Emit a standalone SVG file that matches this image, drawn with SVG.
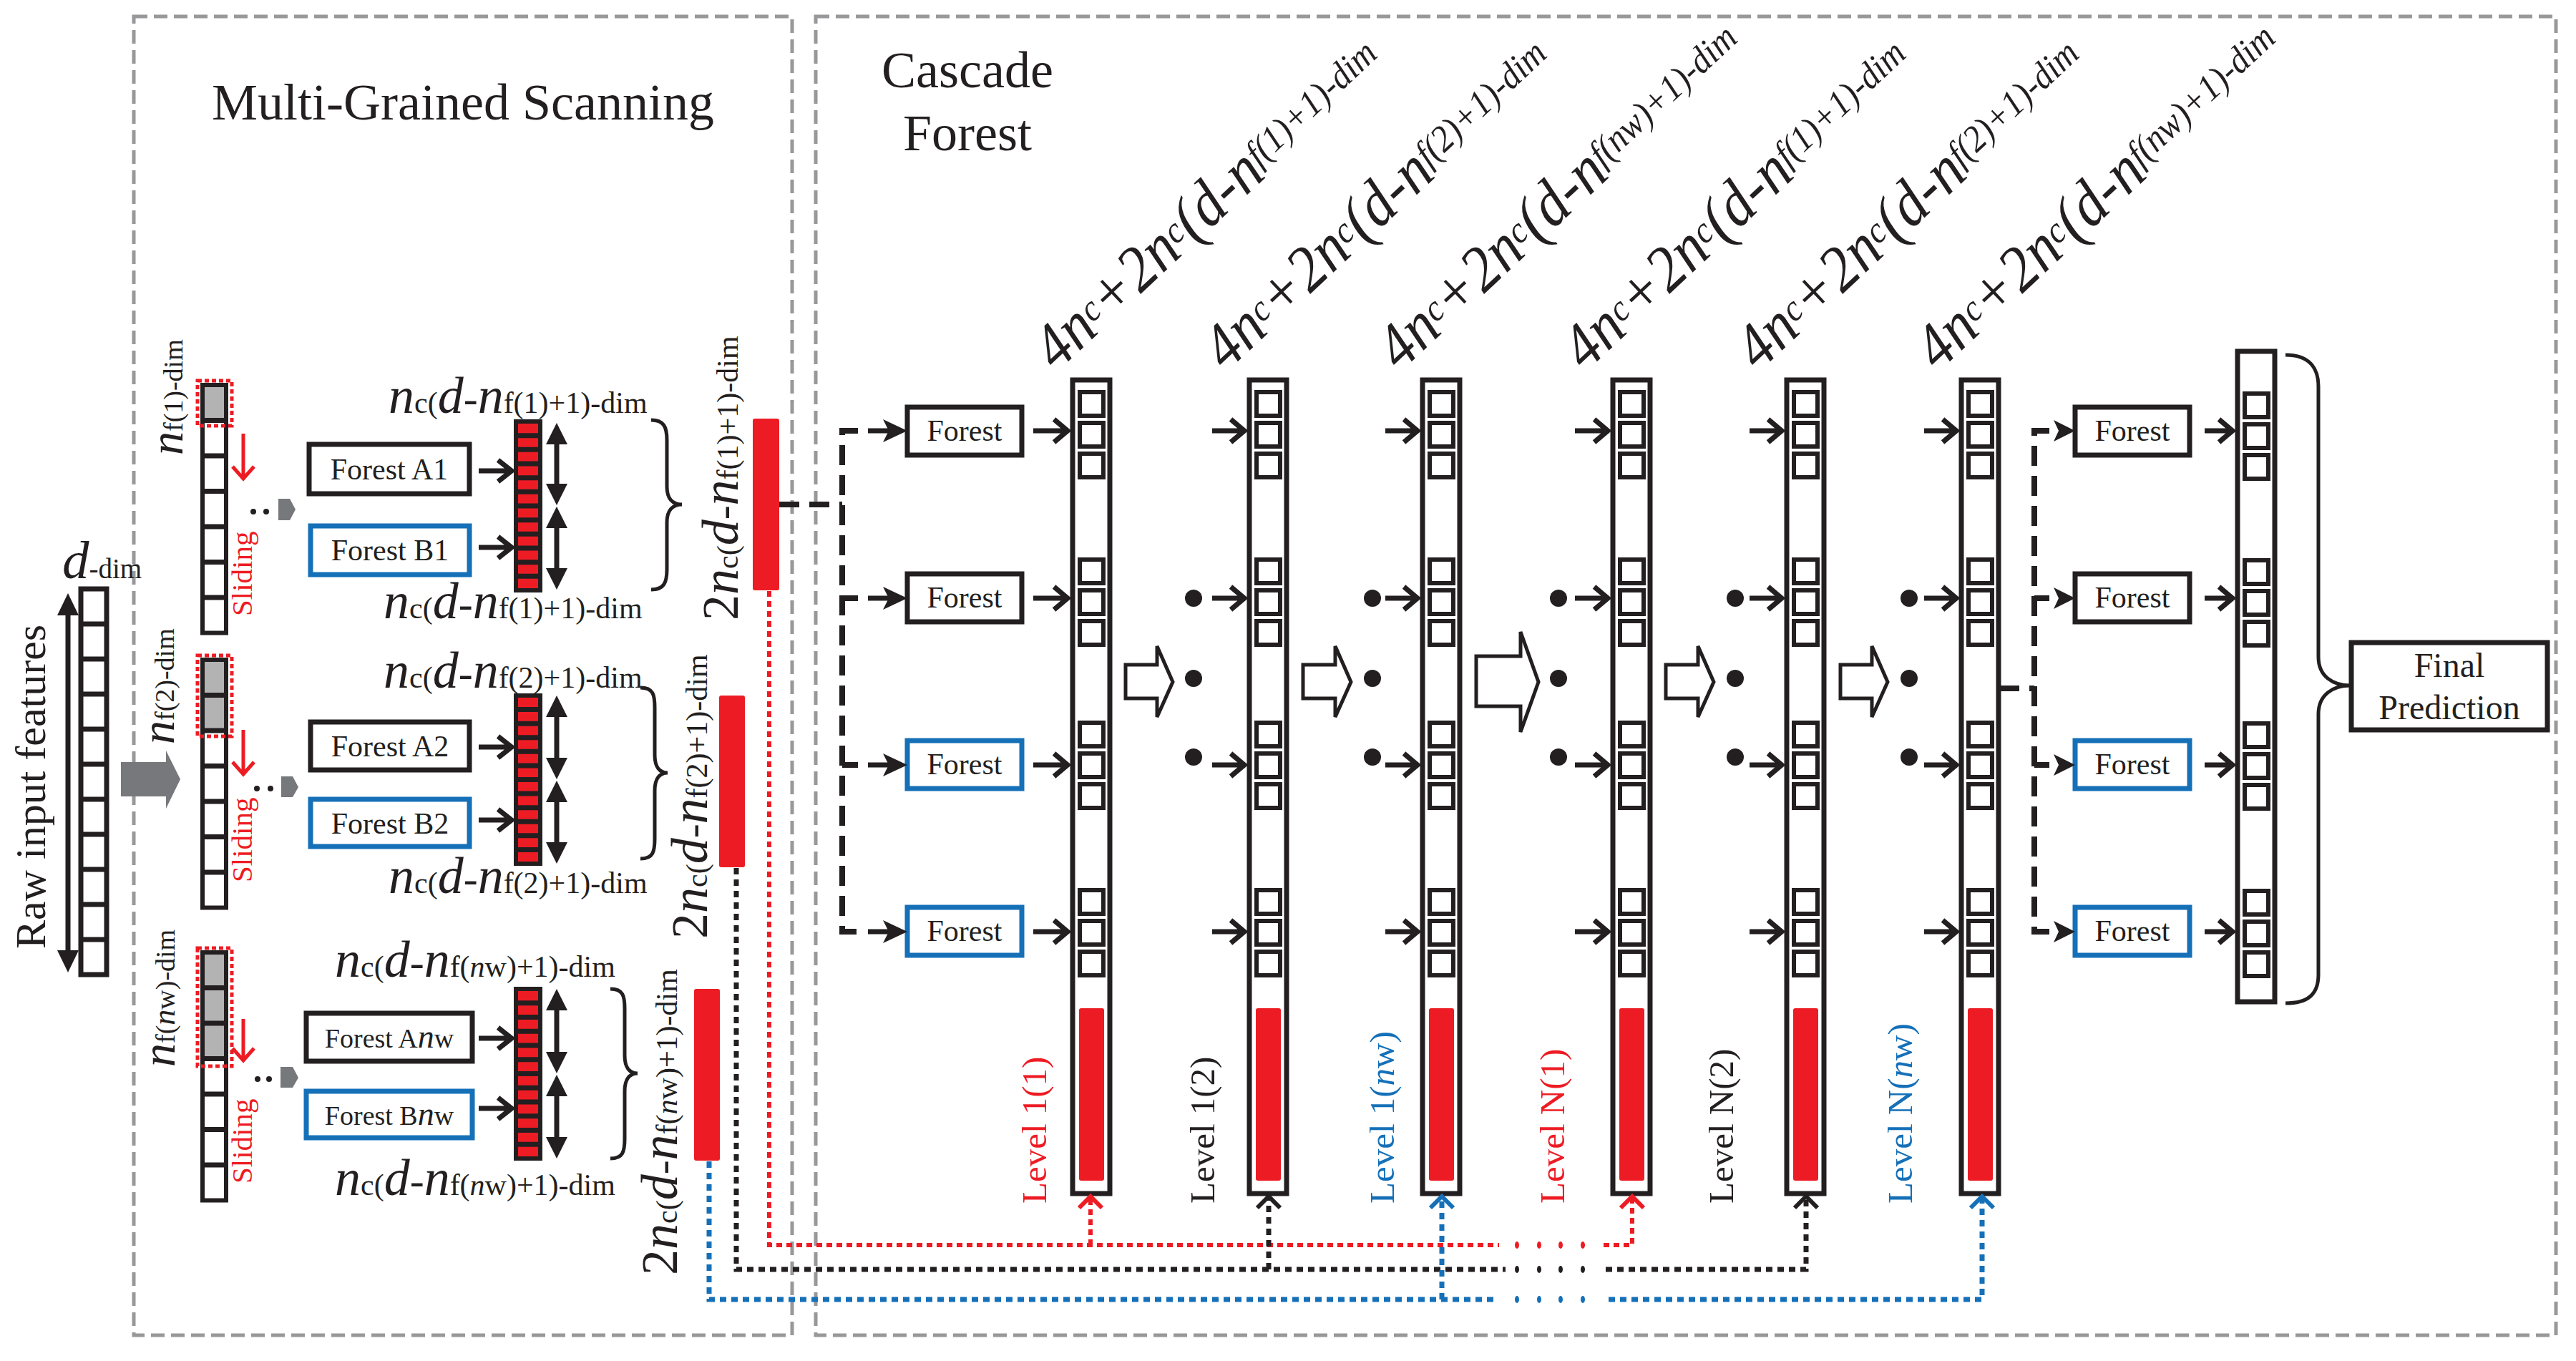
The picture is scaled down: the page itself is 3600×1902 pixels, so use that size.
<svg xmlns="http://www.w3.org/2000/svg" width="3600" height="1902" viewBox="0 0 3600 1902">
<defs>
<style>
.sf{font-family:"Liberation Serif","Times New Roman",serif;fill:#231f20}
.it{font-style:italic}
.gbox{fill:none;stroke:#98989a;stroke-width:5;stroke-dasharray:19 9}
.col{fill:#fff;stroke:#231f20;stroke-width:7}
.sq{fill:#fff;stroke:#231f20;stroke-width:6}
.rb{fill:#ed1c24}
.ln{fill:none;stroke:#231f20;stroke-width:7}
.thin{fill:none;stroke:#231f20;stroke-width:5}
.fbk{fill:#fff;stroke:#231f20;stroke-width:7}
.fbl{fill:#fff;stroke:#1570b8;stroke-width:7}
.bd{fill:none;stroke:#231f20;stroke-width:8;stroke-dasharray:28 14}
.rdot{fill:none;stroke:#ed1c24;stroke-width:6;stroke-dasharray:8 6}
.kdot{fill:none;stroke:#231f20;stroke-width:7;stroke-dasharray:9 7}
.bdot{fill:none;stroke:#1570b8;stroke-width:7;stroke-dasharray:9 7}
.rsel{fill:none;stroke:#ed1c24;stroke-width:5;stroke-dasharray:6 4}
.gray{fill:#77787b}
.cell{fill:#b3b3b3}
.hd{fill:#231f20}
.hollow{fill:#fff;stroke:#231f20;stroke-width:5;stroke-linejoin:miter}
</style>
<g id="sq3" class="sq"><rect width="33" height="33"/><rect y="43" width="33" height="33"/><rect y="86" width="33" height="33"/></g>
</defs>
<rect width="3600" height="1902" fill="#fff"/>

<g id="panels">
<rect class="gbox" x="187" y="23" width="920" height="1843"/>
<rect class="gbox" x="1140" y="23" width="2432" height="1843"/>
<text class="sf" x="647" y="167" font-size="72" text-anchor="middle">Multi-Grained Scanning</text>
<text class="sf" x="1352" y="122" font-size="72" text-anchor="middle">Cascade</text>
<text class="sf" x="1352" y="210" font-size="72" text-anchor="middle">Forest</text>
</g>

<g id="raw-input">
<rect x="113" y="823" width="36" height="539" class="col" stroke-width="6"/>
<path class="ln" stroke-width="6" d="M113,872H149M113,921H149M113,970H149M113,1019H149M113,1068H149M113,1117H149M113,1166H149M113,1215H149M113,1264H149M113,1313H149"/>
<path class="ln" d="M95,855V1333"/>
<polygon class="hd" points="95,829 80,860 110,860"/>
<polygon class="hd" points="95,1359 80,1328 110,1328"/>
<text class="sf" transform="translate(63,1326) rotate(-90)" font-size="60">Raw input features</text>
<text class="sf" x="87" y="808"><tspan class="it" font-size="75">d</tspan><tspan font-size="39">-dim</tspan></text>
<path class="gray" d="M169,1065H232V1049L252,1089L232,1130V1113H169Z"/>
</g>

<g id="window1">
<rect class="cell" x="283" y="538" width="33" height="49.5"/>
<rect x="283" y="538" width="33" height="346.5" fill="none" stroke="#231f20" stroke-width="6"/>
<path class="ln" stroke-width="6" d="M283,587.5H316M283,637H316M283,686.5H316M283,736H316M283,785.5H316M283,835H316"/>
<rect class="rsel" x="276" y="532" width="48" height="63"/>
<path fill="none" stroke="#ed1c24" stroke-width="5" d="M340,606V668M325,652L340,669L355,652"/>
<text class="sf" fill="#ed1c24" style="fill:#ed1c24" transform="translate(352,861) rotate(-90)" font-size="41">Sliding</text>
<text class="sf" transform="translate(255,636) rotate(-90)"><tspan class="it" font-size="66">n</tspan><tspan font-size="38">f(1)-dim</tspan></text>
<circle class="hd" cx="354" cy="715" r="4"/><circle class="hd" cx="372" cy="715" r="4"/>
<path class="gray" d="M389,697H405L413,712L405,727H389Z"/>
</g>

<g id="window2">
<rect class="cell" x="283" y="922" width="33" height="99"/>
<rect x="283" y="922" width="33" height="346.5" fill="none" stroke="#231f20" stroke-width="6"/>
<path class="ln" stroke-width="6" d="M283,971.5H316M283,1021H316M283,1070.5H316M283,1120H316M283,1169.5H316M283,1219H316"/>
<rect class="rsel" x="276" y="916" width="48" height="113"/>
<path fill="none" stroke="#ed1c24" stroke-width="5" d="M340,1020V1081M325,1065L340,1082L355,1065"/>
<text class="sf" style="fill:#ed1c24" transform="translate(352,1233) rotate(-90)" font-size="41">Sliding</text>
<text class="sf" transform="translate(243,1040) rotate(-90)"><tspan class="it" font-size="66">n</tspan><tspan font-size="38">f(2)-dim</tspan></text>
<circle class="hd" cx="359" cy="1102" r="4"/><circle class="hd" cx="378" cy="1102" r="4"/>
<path class="gray" d="M393,1085H409L417,1100L409,1114H393Z"/>
</g>

<g id="window3">
<rect class="cell" x="283" y="1331" width="33" height="148.5"/>
<rect x="283" y="1331" width="33" height="346.5" fill="none" stroke="#231f20" stroke-width="6"/>
<path class="ln" stroke-width="6" d="M283,1380.5H316M283,1430H316M283,1479.5H316M283,1529H316M283,1578.5H316M283,1628H316"/>
<rect class="rsel" x="276" y="1325" width="48" height="165"/>
<path fill="none" stroke="#ed1c24" stroke-width="5" d="M340,1424V1481M325,1465L340,1482L355,1465"/>
<text class="sf" style="fill:#ed1c24" transform="translate(352,1654) rotate(-90)" font-size="41">Sliding</text>
<text class="sf" transform="translate(244,1491) rotate(-90)"><tspan class="it" font-size="66">n</tspan><tspan font-size="38">f(</tspan><tspan class="it" font-size="44">n</tspan><tspan font-size="38">w)-dim</tspan></text>
<circle class="hd" cx="360" cy="1508" r="4"/><circle class="hd" cx="376" cy="1508" r="4"/>
<path class="gray" d="M392,1491H409L417,1506L409,1520H392Z"/>
</g>

<g id="forestA1"><rect class="fbk" x="432" y="621" width="224" height="69"/><text class="sf" x="544" y="670" font-size="42" text-anchor="middle">Forest A1</text></g>
<g id="forestB1"><rect class="fbl" x="434" y="735" width="222" height="68"/><text class="sf" x="545" y="783" font-size="42" text-anchor="middle">Forest B1</text></g>
<g id="forestA2"><rect class="fbk" x="434" y="1009" width="222" height="67"/><text class="sf" x="545" y="1057" font-size="42" text-anchor="middle">Forest A2</text></g>
<g id="forestB2"><rect class="fbl" x="434" y="1117" width="222" height="66"/><text class="sf" x="545" y="1165" font-size="42" text-anchor="middle">Forest B2</text></g>
<g id="forestAnw"><rect class="fbk" x="428" y="1416" width="232" height="67"/><text class="sf" x="544" y="1464" font-size="38" text-anchor="middle">Forest A<tspan class="it" font-size="46">n</tspan>w</text></g>
<g id="forestBnw"><rect class="fbl" x="428" y="1525" width="232" height="65"/><text class="sf" x="544" y="1572" font-size="38" text-anchor="middle">Forest B<tspan class="it" font-size="46">n</tspan>w</text></g>

<g id="vector1">
<rect class="rb" x="721" y="589" width="34" height="236" stroke="#231f20" stroke-width="6"/>
<path class="ln" stroke-width="4" d="M721,608.7H755M721,628.3H755M721,648H755M721,667.7H755M721,687.3H755M721,707H755M721,726.7H755M721,746.3H755M721,766H755M721,785.7H755M721,805.3H755"/>
<path class="ln" stroke-width="6" d="M778,615V682M778,732V800"/>
<polygon class="hd" points="778,591 763,621 793,621"/><polygon class="hd" points="778,706 763,676 793,676"/>
<polygon class="hd" points="778,708 763,738 793,738"/><polygon class="hd" points="778,824 763,794 793,794"/>
<text class="sf" x="543" y="577"><tspan class="it" font-size="72">n</tspan><tspan font-size="42">c(</tspan><tspan class="it" font-size="72">d</tspan><tspan font-size="60">-</tspan><tspan class="it" font-size="72">n</tspan><tspan font-size="42">f(1)+1)-dim</tspan></text>
<text class="sf" x="536" y="864"><tspan class="it" font-size="72">n</tspan><tspan font-size="42">c(</tspan><tspan class="it" font-size="72">d</tspan><tspan font-size="60">-</tspan><tspan class="it" font-size="72">n</tspan><tspan font-size="42">f(1)+1)-dim</tspan></text>
<path class="thin" d="M910,587C928,587 932,597 932,615V680C932,697 940,705 953,705C940,705 932,713 932,730V796C932,814 928,824 910,824"/>
<text class="sf" transform="translate(1031,867) rotate(-90)"><tspan font-size="72">2</tspan><tspan class="it" font-size="72">n</tspan><tspan font-size="42">c(</tspan><tspan class="it" font-size="72">d</tspan><tspan font-size="60">-</tspan><tspan class="it" font-size="72">n</tspan><tspan font-size="42">f(1)+1)-dim</tspan></text>
<rect class="rb" x="1052" y="585" width="37" height="240" rx="3"/>
</g>

<g id="vector2">
<rect class="rb" x="721" y="972" width="34" height="235" stroke="#231f20" stroke-width="6"/>
<path class="ln" stroke-width="4" d="M721,991.6H755M721,1011.2H755M721,1030.8H755M721,1050.3H755M721,1069.9H755M721,1089.5H755M721,1109.1H755M721,1128.7H755M721,1148.2H755M721,1167.8H755M721,1187.4H755"/>
<path class="ln" stroke-width="6" d="M778,996V1065M778,1115V1183"/>
<polygon class="hd" points="778,972 763,1002 793,1002"/><polygon class="hd" points="778,1089 763,1059 793,1059"/>
<polygon class="hd" points="778,1091 763,1121 793,1121"/><polygon class="hd" points="778,1207 763,1177 793,1177"/>
<text class="sf" x="536" y="961"><tspan class="it" font-size="72">n</tspan><tspan font-size="42">c(</tspan><tspan class="it" font-size="72">d</tspan><tspan font-size="60">-</tspan><tspan class="it" font-size="72">n</tspan><tspan font-size="42">f(2)+1)-dim</tspan></text>
<text class="sf" x="543" y="1248"><tspan class="it" font-size="72">n</tspan><tspan font-size="42">c(</tspan><tspan class="it" font-size="72">d</tspan><tspan font-size="60">-</tspan><tspan class="it" font-size="72">n</tspan><tspan font-size="42">f(2)+1)-dim</tspan></text>
<path class="thin" d="M895,961C913,961 915,971 915,989V1055C915,1072 922,1080 933,1080C922,1080 915,1088 915,1105V1172C915,1190 913,1200 895,1200"/>
<text class="sf" transform="translate(988,1312) rotate(-90)"><tspan font-size="72">2</tspan><tspan class="it" font-size="72">n</tspan><tspan font-size="42">c(</tspan><tspan class="it" font-size="72">d</tspan><tspan font-size="60">-</tspan><tspan class="it" font-size="72">n</tspan><tspan font-size="42">f(2)+1)-dim</tspan></text>
<rect class="rb" x="1005" y="972" width="36" height="240" rx="3"/>
</g>

<g id="vector3">
<rect class="rb" x="721" y="1382" width="34" height="237" stroke="#231f20" stroke-width="6"/>
<path class="ln" stroke-width="4" d="M721,1401.8H755M721,1421.5H755M721,1441.3H755M721,1461H755M721,1480.8H755M721,1500.5H755M721,1520.3H755M721,1540H755M721,1559.8H755M721,1579.5H755M721,1599.3H755"/>
<path class="ln" stroke-width="6" d="M778,1406V1476M778,1526V1595"/>
<polygon class="hd" points="778,1382 763,1412 793,1412"/><polygon class="hd" points="778,1500 763,1470 793,1470"/>
<polygon class="hd" points="778,1502 763,1532 793,1532"/><polygon class="hd" points="778,1619 763,1589 793,1589"/>
<text class="sf" x="468" y="1365"><tspan class="it" font-size="72">n</tspan><tspan font-size="42">c(</tspan><tspan class="it" font-size="72">d</tspan><tspan font-size="60">-</tspan><tspan class="it" font-size="72">n</tspan><tspan font-size="42">f(</tspan><tspan class="it" font-size="42">n</tspan><tspan font-size="42">w)+1)-dim</tspan></text>
<text class="sf" x="468" y="1670"><tspan class="it" font-size="72">n</tspan><tspan font-size="42">c(</tspan><tspan class="it" font-size="72">d</tspan><tspan font-size="60">-</tspan><tspan class="it" font-size="72">n</tspan><tspan font-size="42">f(</tspan><tspan class="it" font-size="42">n</tspan><tspan font-size="42">w)+1)-dim</tspan></text>
<path class="thin" d="M853,1382C871,1382 873,1392 873,1410V1475C873,1492 880,1500 891,1500C880,1500 873,1508 873,1525V1591C873,1609 871,1619 853,1619"/>
<text class="sf" transform="translate(946,1782) rotate(-90)"><tspan font-size="72">2</tspan><tspan class="it" font-size="72">n</tspan><tspan font-size="42">c(</tspan><tspan class="it" font-size="72">d</tspan><tspan font-size="60">-</tspan><tspan class="it" font-size="72">n</tspan><tspan font-size="42">f(</tspan><tspan class="it" font-size="42">n</tspan><tspan font-size="42">w)+1)-dim</tspan></text>
<rect class="rb" x="970" y="1382" width="36" height="240" rx="3"/>
</g>

<g id="cascade-forests-in">
<g id="cf1"><rect class="fbk" x="1268" y="569" width="160" height="67"/><text class="sf" x="1348" y="616" font-size="42" text-anchor="middle">Forest</text></g>
<g id="cf2"><rect class="fbk" x="1268" y="802" width="160" height="67"/><text class="sf" x="1348" y="849" font-size="42" text-anchor="middle">Forest</text></g>
<g id="cf3"><rect class="fbl" x="1268" y="1035" width="160" height="67"/><text class="sf" x="1348" y="1082" font-size="42" text-anchor="middle">Forest</text></g>
<g id="cf4"><rect class="fbl" x="1268" y="1268" width="160" height="67"/><text class="sf" x="1348" y="1315" font-size="42" text-anchor="middle">Forest</text></g>
</g>

<g id="cascade-forests-out">
<g id="cf5"><rect class="fbk" x="2900" y="569" width="160" height="67"/><text class="sf" x="2980" y="616" font-size="42" text-anchor="middle">Forest</text></g>
<g id="cf6"><rect class="fbk" x="2900" y="802" width="160" height="67"/><text class="sf" x="2980" y="849" font-size="42" text-anchor="middle">Forest</text></g>
<g id="cf7"><rect class="fbl" x="2900" y="1035" width="160" height="67"/><text class="sf" x="2980" y="1082" font-size="42" text-anchor="middle">Forest</text></g>
<g id="cf8"><rect class="fbl" x="2900" y="1268" width="160" height="67"/><text class="sf" x="2980" y="1315" font-size="42" text-anchor="middle">Forest</text></g>
</g>

<g id="level-1-1">
<rect class="col" x="1499" y="531" width="52" height="1137"/>
<use href="#sq3" x="1509" y="548"/><use href="#sq3" x="1509" y="782"/><use href="#sq3" x="1509" y="1010"/><use href="#sq3" x="1509" y="1244"/>
<rect class="rb" x="1508" y="1409" width="35" height="241" rx="3"/>
<text class="sf" style="fill:#ed1c24" transform="translate(1462,1682) rotate(-90)" font-size="49">Level 1(1)</text>
<text class="sf it" font-size="90" transform="translate(1477,520) rotate(-43) scale(0.92,1)">4n<tspan font-size="52" dy="-16">c</tspan><tspan dy="16">+2n</tspan><tspan font-size="52" dy="-16">c</tspan><tspan dy="16">(d-n</tspan><tspan font-size="52" dy="-16">f(1)+1)-dim</tspan></text>
</g>
<g id="level-1-2">
<rect class="col" x="1746" y="531" width="52" height="1137"/>
<use href="#sq3" x="1756" y="548"/><use href="#sq3" x="1756" y="782"/><use href="#sq3" x="1756" y="1010"/><use href="#sq3" x="1756" y="1244"/>
<rect class="rb" x="1755" y="1409" width="35" height="241" rx="3"/>
<text class="sf" transform="translate(1697,1682) rotate(-90)" font-size="49">Level 1(2)</text>
<text class="sf it" font-size="90" transform="translate(1714,520) rotate(-43) scale(0.92,1)">4n<tspan font-size="52" dy="-16">c</tspan><tspan dy="16">+2n</tspan><tspan font-size="52" dy="-16">c</tspan><tspan dy="16">(d-n</tspan><tspan font-size="52" dy="-16">f(2)+1)-dim</tspan></text>
</g>
<g id="level-1-nw">
<rect class="col" x="1988" y="531" width="52" height="1137"/>
<use href="#sq3" x="1998" y="548"/><use href="#sq3" x="1998" y="782"/><use href="#sq3" x="1998" y="1010"/><use href="#sq3" x="1998" y="1244"/>
<rect class="rb" x="1997" y="1409" width="35" height="241" rx="3"/>
<text class="sf" style="fill:#1570b8" transform="translate(1948,1682) rotate(-90)" font-size="49">Level 1(<tspan class="it">n</tspan>w)</text>
<text class="sf it" font-size="90" transform="translate(1957,520) rotate(-43) scale(0.92,1)">4n<tspan font-size="52" dy="-16">c</tspan><tspan dy="16">+2n</tspan><tspan font-size="52" dy="-16">c</tspan><tspan dy="16">(d-n</tspan><tspan font-size="52" dy="-16">f(nw)+1)-dim</tspan></text>
</g>
<g id="level-N-1">
<rect class="col" x="2254" y="531" width="52" height="1137"/>
<use href="#sq3" x="2264" y="548"/><use href="#sq3" x="2264" y="782"/><use href="#sq3" x="2264" y="1010"/><use href="#sq3" x="2264" y="1244"/>
<rect class="rb" x="2263" y="1409" width="35" height="241" rx="3"/>
<text class="sf" style="fill:#ed1c24" transform="translate(2186,1682) rotate(-90)" font-size="49">Level N(1)</text>
<text class="sf it" font-size="90" transform="translate(2216,520) rotate(-43) scale(0.92,1)">4n<tspan font-size="52" dy="-16">c</tspan><tspan dy="16">+2n</tspan><tspan font-size="52" dy="-16">c</tspan><tspan dy="16">(d-n</tspan><tspan font-size="52" dy="-16">f(1)+1)-dim</tspan></text>
</g>
<g id="level-N-2">
<rect class="col" x="2497" y="531" width="52" height="1137"/>
<use href="#sq3" x="2507" y="548"/><use href="#sq3" x="2507" y="782"/><use href="#sq3" x="2507" y="1010"/><use href="#sq3" x="2507" y="1244"/>
<rect class="rb" x="2506" y="1409" width="35" height="241" rx="3"/>
<text class="sf" transform="translate(2422,1682) rotate(-90)" font-size="49">Level N(2)</text>
<text class="sf it" font-size="90" transform="translate(2458,520) rotate(-43) scale(0.92,1)">4n<tspan font-size="52" dy="-16">c</tspan><tspan dy="16">+2n</tspan><tspan font-size="52" dy="-16">c</tspan><tspan dy="16">(d-n</tspan><tspan font-size="52" dy="-16">f(2)+1)-dim</tspan></text>
</g>
<g id="level-N-nw">
<rect class="col" x="2741" y="531" width="52" height="1137"/>
<use href="#sq3" x="2751" y="548"/><use href="#sq3" x="2751" y="782"/><use href="#sq3" x="2751" y="1010"/><use href="#sq3" x="2751" y="1244"/>
<rect class="rb" x="2750" y="1409" width="35" height="241" rx="3"/>
<text class="sf" style="fill:#1570b8" transform="translate(2672,1682) rotate(-90)" font-size="49">Level N(<tspan class="it">n</tspan>w)</text>
<text class="sf it" font-size="90" transform="translate(2709,520) rotate(-43) scale(0.92,1)">4n<tspan font-size="52" dy="-16">c</tspan><tspan dy="16">+2n</tspan><tspan font-size="52" dy="-16">c</tspan><tspan dy="16">(d-n</tspan><tspan font-size="52" dy="-16">f(nw)+1)-dim</tspan></text>
</g>

<g id="final-vector">
<rect class="col" x="3127" y="491" width="52" height="909"/>
<use href="#sq3" x="3137" y="550"/><use href="#sq3" x="3137" y="783"/><use href="#sq3" x="3137" y="1011"/><use href="#sq3" x="3137" y="1245"/>
<path class="thin" d="M3194,496C3225,496 3240,512 3240,540V918C3240,945 3260,958 3285,958C3260,958 3240,971 3240,998V1362C3240,1390 3225,1402 3194,1402"/>
</g>

<g id="final-prediction">
<rect class="fbk" x="3286" y="898" width="274" height="122"/>
<text class="sf" x="3423" y="946" font-size="48" text-anchor="middle">Final</text>
<text class="sf" x="3423" y="1005" font-size="48" text-anchor="middle">Prediction</text>
</g>

<g id="connectors">
<!-- MGS forest to vectors -->
<path class="ln" d="M669,658H714M696,643L715,658L696,673M669,765H714M696,750L715,765L696,780M669,1044H714M696,1029L715,1044L696,1059M669,1146H714M696,1131L715,1146L696,1161M669,1451H714M696,1436L715,1451L696,1466M669,1549H714M696,1534L715,1549L696,1564"/>
<!-- dashed from vector1 to cascade forests -->
<path class="bd" d="M1089,705H1177"/>
<path class="bd" d="M1199,602H1177V1302H1199M1177,836H1199M1177,1069H1199"/>
<path class="ln" d="M1213,602H1244M1213,836H1244M1213,1069H1244M1213,1302H1244"/>
<path class="hd" d="M1268,602L1234,586L1242,602L1234,618ZM1268,836L1234,820L1242,836L1234,852ZM1268,1069L1234,1053L1242,1069L1234,1085ZM1268,1302L1234,1286L1242,1302L1234,1318Z"/>
<!-- arrows into cascade levels -->
<path class="ln" d="M1444,602H1491M1473,586L1492,602L1473,618M1444,836H1491M1473,820L1492,836L1473,852M1444,1069H1491M1473,1053L1492,1069L1473,1085M1444,1302H1491M1473,1286L1492,1302L1473,1318"/>
<path class="ln" d="M1694,602H1738M1720,586L1739,602L1720,618M1694,836H1738M1720,820L1739,836L1720,852M1694,1069H1738M1720,1053L1739,1069L1720,1085M1694,1302H1738M1720,1286L1739,1302L1720,1318"/>
<path class="ln" d="M1936,602H1980M1962,586L1981,602L1962,618M1936,836H1980M1962,820L1981,836L1962,852M1936,1069H1980M1962,1053L1981,1069L1962,1085M1936,1302H1980M1962,1286L1981,1302L1962,1318"/>
<path class="ln" d="M2201,602H2246M2228,586L2247,602L2228,618M2201,836H2246M2228,820L2247,836L2228,852M2201,1069H2246M2228,1053L2247,1069L2228,1085M2201,1302H2246M2228,1286L2247,1302L2228,1318"/>
<path class="ln" d="M2445,602H2489M2471,586L2490,602L2471,618M2445,836H2489M2471,820L2490,836L2471,852M2445,1069H2489M2471,1053L2490,1069L2471,1085M2445,1302H2489M2471,1286L2490,1302L2471,1318"/>
<path class="ln" d="M2689,602H2733M2715,586L2734,602L2715,618M2689,836H2733M2715,820L2734,836L2715,852M2689,1069H2733M2715,1053L2734,1069L2715,1085M2689,1302H2733M2715,1286L2734,1302L2715,1318"/>
<path class="ln" d="M3081,602H3119M3101,586L3120,602L3101,618M3081,836H3119M3101,820L3120,836L3101,852M3081,1069H3119M3101,1053L3120,1069L3101,1085M3081,1302H3119M3101,1286L3120,1302L3101,1318"/>
<!-- dots -->
<g class="hd">
<circle cx="1668" cy="836" r="12"/><circle cx="1668" cy="948" r="12"/><circle cx="1668" cy="1058" r="12"/>
<circle cx="1918" cy="836" r="12"/><circle cx="1918" cy="948" r="12"/><circle cx="1918" cy="1058" r="12"/>
<circle cx="2178" cy="836" r="12"/><circle cx="2178" cy="948" r="12"/><circle cx="2178" cy="1058" r="12"/>
<circle cx="2425" cy="836" r="12"/><circle cx="2425" cy="948" r="12"/><circle cx="2425" cy="1058" r="12"/>
<circle cx="2668" cy="836" r="12"/><circle cx="2668" cy="948" r="12"/><circle cx="2668" cy="1058" r="12"/>
</g>
<!-- hollow arrows -->
<path class="hollow" d="M1573,929H1617V903L1639,953L1617,1002V976H1573Z"/>
<path class="hollow" d="M1821,929H1866V903L1888,953L1866,1002V976H1821Z"/>
<path class="hollow" d="M2063,917H2125V883L2150,953L2125,1023V987H2063Z"/>
<path class="hollow" d="M2328,929H2373V903L2395,953L2373,1002V976H2328Z"/>
<path class="hollow" d="M2572,929H2616V903L2638,953L2616,1002V976H2572Z"/>
<!-- dashed from last level to output forests -->
<path class="bd" d="M2794,962H2843"/>
<path class="bd" d="M2864,602H2843V1302H2864M2843,836H2864M2843,1069H2864"/>
<path class="hd" d="M2900,602L2870,587L2877,602L2870,617ZM2900,836L2870,821L2877,836L2870,851ZM2900,1069L2870,1054L2877,1069L2870,1084ZM2900,1302L2870,1287L2877,1302L2870,1317Z"/>
<!-- bottom feedback lines -->
<path class="rdot" d="M1075,826V1740H2095"/>
<path class="rdot" d="M2241,1740H2281V1674"/>
<path class="rdot" d="M1524,1740V1674"/>
<g fill="#ed1c24"><ellipse cx="2120" cy="1740" rx="3" ry="5"/><ellipse cx="2151" cy="1740" rx="3" ry="5"/><ellipse cx="2181" cy="1740" rx="3" ry="5"/><ellipse cx="2212" cy="1740" rx="3" ry="5"/></g>
<path class="kdot" d="M1029,1213V1774H2104"/>
<path class="kdot" d="M2244,1774H2524V1674"/>
<path class="kdot" d="M1773,1774V1674"/>
<g fill="#231f20"><ellipse cx="2120" cy="1774" rx="3" ry="5"/><ellipse cx="2151" cy="1774" rx="3" ry="5"/><ellipse cx="2181" cy="1774" rx="3" ry="5"/><ellipse cx="2212" cy="1774" rx="3" ry="5"/></g>
<path class="bdot" d="M991,1623V1816H2091"/>
<path class="bdot" d="M2248,1816H2770V1674"/>
<path class="bdot" d="M2015,1816V1674"/>
<g fill="#1570b8"><ellipse cx="2120" cy="1816" rx="3" ry="5"/><ellipse cx="2151" cy="1816" rx="3" ry="5"/><ellipse cx="2181" cy="1816" rx="3" ry="5"/><ellipse cx="2212" cy="1816" rx="3" ry="5"/></g>
<path fill="none" stroke="#ed1c24" stroke-width="6" d="M1508,1688L1524,1672L1540,1688M2265,1688L2281,1672L2297,1688"/>
<path fill="none" stroke="#231f20" stroke-width="6" d="M1757,1688L1773,1672L1789,1688M2508,1688L2524,1672L2540,1688"/>
<path fill="none" stroke="#1570b8" stroke-width="6" d="M1999,1688L2015,1672L2031,1688M2754,1688L2770,1672L2786,1688"/>
</g>
</svg>
